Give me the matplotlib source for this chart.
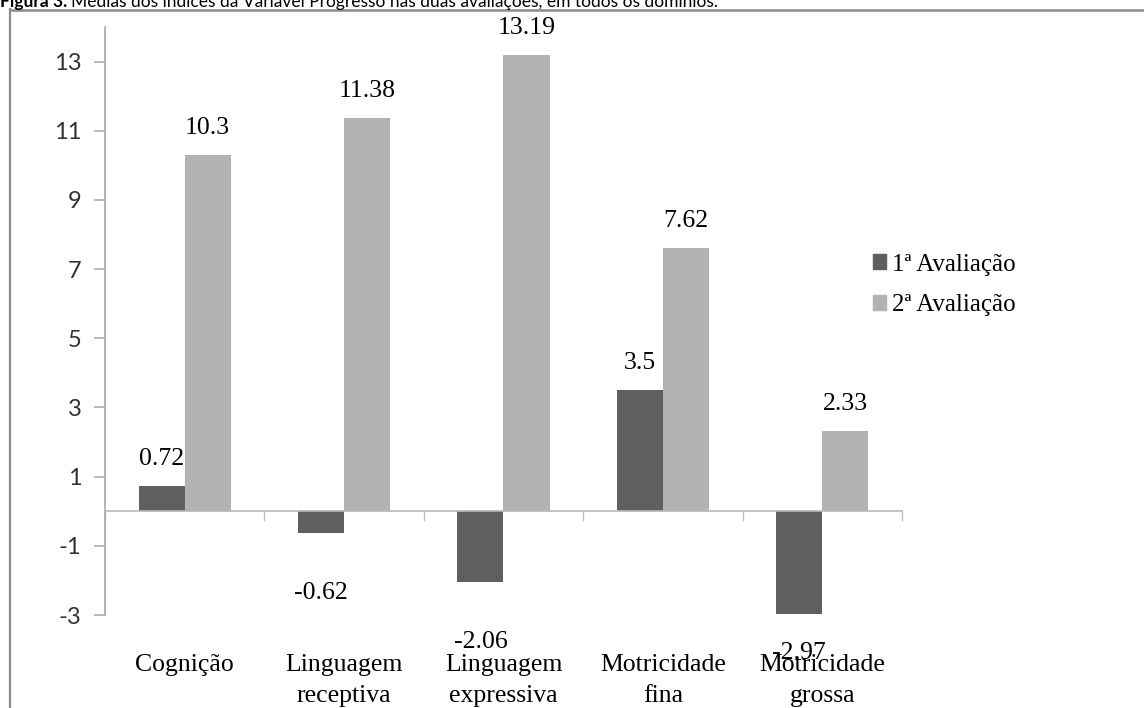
import numpy as np
import matplotlib
matplotlib.use("Agg")
import matplotlib.pyplot as plt
from matplotlib.patches import Patch
from matplotlib.lines import Line2D

# dados
categorias = ["Cognição", "Linguagem\nreceptiva", "Linguagem\nexpressiva",
              "Motricidade\nfina", "Motricidade\ngrossa"]
aval1 = [0.72, -0.62, -2.06, 3.5, -2.97]
aval2 = [10.3, 11.38, 13.19, 7.62, 2.33]
series = ["1ª Avaliação", "2ª Avaliação"]
yticks = [-3, -1, 1, 3, 5, 7, 9, 11, 13]

dark = "#5f5f5f"
light = "#b3b3b3"
serif = "Liberation Serif"
sans = "Lato"

W, H = 1144, 708
fig = plt.figure(figsize=(W / 100, H / 100), dpi=100)
fig.patch.set_facecolor("white")

ax = fig.add_axes([105 / W, 1 - 615 / H, (902 - 105) / W, (615 - 27) / H])
x = np.arange(len(categorias))
w = 0.289
ax.bar(x - w / 2, aval1, w, color=dark, zorder=2)
ax.bar(x + w / 2, aval2, w, color=light, zorder=2)

ax.set_xlim(-0.5, len(categorias) - 0.5)
ax.set_ylim(-3, 14)

for s in ["top", "right"]:
    ax.spines[s].set_visible(False)
ax.spines["left"].set_color("#a6a6a6")
ax.spines["left"].set_linewidth(1.2)
ax.spines["bottom"].set_position(("data", 0))
ax.spines["bottom"].set_color("#b8b8b8")
ax.spines["bottom"].set_linewidth(1.2)
ax.spines["bottom"].set_zorder(3)

ax.set_yticks(yticks)
ax.set_yticklabels([str(t) for t in yticks], fontfamily=sans, fontsize=17,
                   color="#333333")
ax.tick_params(axis="y", length=8, width=1.1, color="#a6a6a6", pad=9)

# marcas nas fronteiras das categorias
ax.set_xticks(np.arange(-0.5, len(categorias)), minor=True)
ax.set_xticks([])
ax.tick_params(axis="x", which="minor", length=7, width=1.0, color="#c0c0c0",
               direction="out")

# rótulos das categorias
for i, c in enumerate(categorias):
    ax.annotate(c, xy=(i, 0), xycoords=("data", "axes fraction"),
                xytext=(0, -39), textcoords="offset pixels", ha="center",
                va="top", fontfamily=serif, fontsize=18.5, linespacing=1.55)

# rótulos dos valores
px_unit = ax.transData.transform((0, 1))[1] - ax.transData.transform((0, 0))[1]


def rotular(xs, vals):
    for xi, v in zip(xs, vals):
        if v >= 0:
            off = 27
        else:
            off = -min(60, (v + 3) * px_unit + 38)
        ax.annotate(f"{v:g}", xy=(xi, v), xytext=(0, off),
                    textcoords="offset pixels", ha="center", va="center",
                    fontfamily=serif, fontsize=18.5, annotation_clip=False)


rotular(x - w / 2, aval1)
rotular(x + w / 2, aval2)

handles = [Patch(color=dark), Patch(color=light)]
fig.legend(handles, series, loc="center left",
           bbox_to_anchor=(860 / W, 1 - 285 / H), frameon=False,
           prop={"family": serif, "size": 18}, handlelength=0.55,
           handleheight=0.55, handletextpad=0.25, labelspacing=0.75,
           borderpad=0)

# moldura
fig.add_artist(Line2D([9.5 / W, 9.5 / W], [0, 1 - 9 / H], color="#8c8c8c",
                      lw=1.6, transform=fig.transFigure))
fig.add_artist(Line2D([9.5 / W, 1], [1 - 9.5 / H, 1 - 9.5 / H],
                      color="#8c8c8c", lw=1.8, transform=fig.transFigure))

# título cortado no topo
t1 = fig.text(0 / W, 1 - 7 / H, "Figura 3.", fontfamily=sans,
              fontweight="bold", fontsize=12.5, va="baseline", ha="left")
fig.canvas.draw()
bb = t1.get_window_extent()
fig.text((bb.x1 + 4) / W, 1 - 7 / H,
         "Médias dos índices da Variável Progresso nas duas avaliações, em todos os domínios.",
         fontfamily=sans, fontsize=12.5, va="baseline", ha="left")

fig.savefig("out.png", dpi=100)
